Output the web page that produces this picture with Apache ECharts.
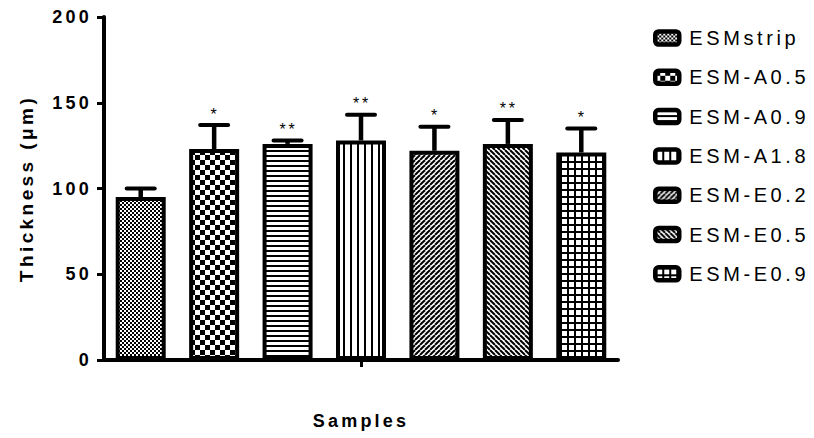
<!DOCTYPE html>
<html>
<head>
<meta charset="utf-8">
<script src="https://cdn.jsdelivr.net/npm/echarts@6/dist/echarts.min.js"></script>
<style>
  html, body { margin: 0; padding: 0; background: #fff; }
  #chart { width: 814px; height: 438px; }
  /* wide tracking on every label, relative to each label's own size */
  #chart text { letter-spacing: 0.18em; }
</style>
</head>
<body>
<div id="chart"></div>
<script>
// Membrane thickness per sample (mean ± SD, µm)
const samples = ['ESMstrip', 'ESM-A0.5', 'ESM-A0.9', 'ESM-A1.8', 'ESM-E0.2', 'ESM-E0.5', 'ESM-E0.9'];
const thickness = [95, 123, 126, 128, 122, 126, 121];
const sd = [5, 14, 2, 15, 14, 14, 14];
const significance = ['', '*', '**', '**', '*', '**', '*'];
const yTicks = [0, 50, 100, 150, 200];

const FONT = "'Liberation Sans', Arial, sans-serif";

// Black-and-white fill patterns, one per sample
function tile(w, h, draw) {
  const c = document.createElement('canvas');
  c.width = w; c.height = h;
  const g = c.getContext('2d');
  g.fillStyle = '#fff';
  g.fillRect(0, 0, w, h);
  g.fillStyle = '#000';
  g.strokeStyle = '#000';
  draw(g, w, h);
  return { image: c, repeat: 'repeat', imageWidth: w, imageHeight: h };
}
function diagonal(n, lw, mirror) {
  return tile(n, n, (g) => {
    g.lineWidth = lw;
    for (let k = -1; k <= 1; k++) {
      g.beginPath();
      if (mirror) { g.moveTo(k * n, 0); g.lineTo(k * n + n, n); }
      else { g.moveTo(k * n, n); g.lineTo(k * n + n, 0); }
      g.stroke();
    }
  });
}
const patterns = [
  tile(4, 4, (g) => { g.fillRect(0, 0, 2, 2); g.fillRect(2, 2, 2, 2); }),
  tile(10, 10, (g) => { g.fillRect(0, 0, 5, 5); g.fillRect(5, 5, 5, 5); }),
  tile(4, 5, (g, w) => { g.fillRect(0, 0, w, 2); }),
  tile(7, 4, (g, w, h) => { g.fillRect(0, 0, 2, h); }),
  diagonal(5, 2, false),
  diagonal(5, 2, true),
  tile(7, 7, (g, w, h) => { g.fillRect(0, 0, w, 2); g.fillRect(0, 0, 2, h); })
];

const barSeries = samples.map((name, i) => ({
  name: name,
  type: 'bar',
  barWidth: 50,
  barGap: '-100%',
  silent: true,
  data: thickness.map((v, j) => (j === i ? v : '-')),
  itemStyle: { color: patterns[i], borderColor: '#000', borderWidth: 4 }
}));

// Upper SD whiskers with significance stars
const errorSeries = {
  type: 'custom',
  name: 'sd',
  silent: true,
  z: 5,
  data: thickness.map((v, i) => [i, v, v + sd[i]]),
  renderItem: function (params, api) {
    const i = params.dataIndex;
    const base = api.coord([api.value(0), api.value(1)]);
    const top = api.coord([api.value(0), api.value(2)]);
    const half = 14;
    return {
      type: 'group',
      children: [
        { type: 'line', shape: { x1: base[0], y1: base[1], x2: top[0], y2: top[1] },
          style: { stroke: '#000', lineWidth: 4.5 } },
        { type: 'line', shape: { x1: top[0] - half, y1: top[1], x2: top[0] + half, y2: top[1] },
          style: { stroke: '#000', lineWidth: 4, lineCap: 'round' } },
        { type: 'text', x: top[0] + 1, y: top[1] - 11,
          style: { text: significance[i], fill: '#000', fontSize: 16, fontFamily: FONT,
                   align: 'center', verticalAlign: 'middle' } }
      ]
    };
  }
};

const chart = echarts.init(document.getElementById('chart'), null, { renderer: 'svg' });
chart.setOption({
  animation: false,
  backgroundColor: '#fff',
  grid: { left: 104, right: 196, top: 17, bottom: 78, containLabel: false },
  legend: {
    data: samples,
    orient: 'vertical',
    left: 648,
    top: 23,
    itemWidth: 24,
    itemHeight: 13,
    itemGap: 19.3,
    icon: 'roundRect',
    selectedMode: false,
    itemStyle: { borderColor: '#000', borderWidth: 4.5 },
    textStyle: { fontFamily: FONT, fontSize: 20, color: '#000', lineHeight: 20, padding: [0, 0, 0, 5] }
  },
  xAxis: {
    type: 'category',
    data: samples,
    name: 'Samples',
    nameLocation: 'middle',
    nameGap: 52,
    nameTextStyle: { fontFamily: FONT, fontWeight: 'bold', fontSize: 18, color: '#000' },
    axisLine: { lineStyle: { color: '#000', width: 4 } },
    axisTick: { show: true, alignWithLabel: true, interval: (idx) => idx === 3, length: 7,
                lineStyle: { color: '#000', width: 3 } },
    axisLabel: { show: false },
    splitLine: { show: false }
  },
  yAxis: {
    type: 'value',
    min: yTicks[0],
    max: yTicks[yTicks.length - 1],
    interval: yTicks[1] - yTicks[0],
    name: 'Thickness (μm)',
    nameLocation: 'middle',
    nameGap: 68,
    nameTextStyle: { fontFamily: FONT, fontWeight: 'bold', fontSize: 19, color: '#000' },
    axisLine: { show: true, lineStyle: { color: '#000', width: 4 } },
    axisTick: { show: true, length: 7, lineStyle: { color: '#000', width: 3 } },
    axisLabel: { fontFamily: FONT, fontWeight: 'bold', fontSize: 18, color: '#000', margin: 12 },
    splitLine: { show: false }
  },
  series: barSeries.concat([errorSeries])
});
</script>
</body>
</html>
